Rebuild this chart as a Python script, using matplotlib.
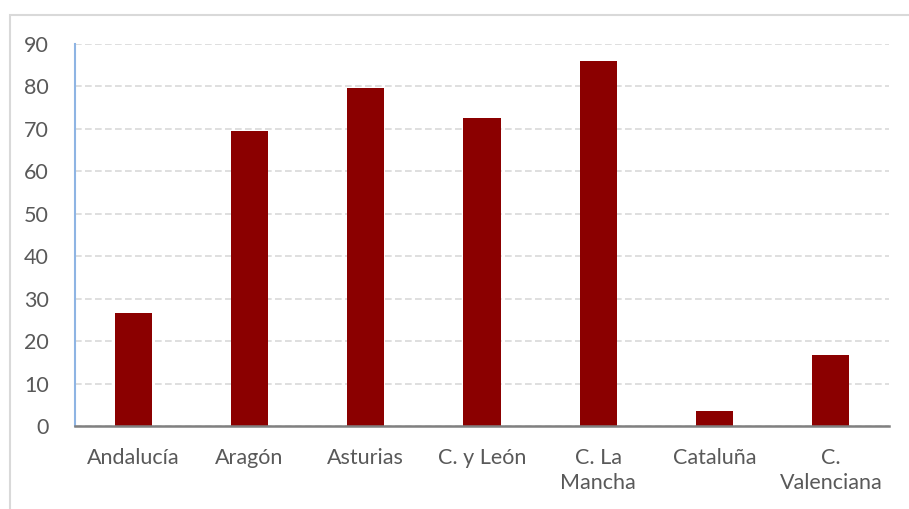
import matplotlib.pyplot as plt
from matplotlib.patches import Rectangle

regions = ["Andalucía", "Aragón", "Asturias", "C. y León", "C. La\nMancha", "Cataluña", "C.\nValenciana"]
values = [26.6, 69.4, 79.6, 72.5, 85.9, 3.5, 16.7]
yticks = [0, 10, 20, 30, 40, 50, 60, 70, 80, 90]

plt.rcParams["font.family"] = ["Lato", "DejaVu Sans"]

fig = plt.figure(figsize=(9.09, 5.09), dpi=100)
ax = fig.add_axes([75 / 909, 1 - 426 / 509, 814 / 909, 382 / 509])

ax.bar(range(len(regions)), values, width=0.32, color="#8b0000", zorder=3)

ax.set_xlim(-0.5, len(regions) - 0.5)
ax.set_ylim(0, 90)
ax.set_yticks(yticks)
ax.set_xticks(range(len(regions)))
ax.set_xticklabels(regions, linespacing=1.3)
ax.tick_params(axis="both", length=0, labelsize=15.5, colors="#595959")
ax.tick_params(axis="x", pad=16)
ax.tick_params(axis="y", pad=19)

ax.grid(axis="y", color="#d9d9d9", linestyle=(0, (4, 2)), linewidth=1.2, zorder=0)
for side in ["top", "right"]:
    ax.spines[side].set_visible(False)
ax.spines["left"].set_color("#8eb4e3")
ax.spines["left"].set_linewidth(1.5)
ax.spines["bottom"].set_color("#808080")
ax.spines["bottom"].set_linewidth(1.8)
ax.spines["bottom"].set_zorder(4)

# outer chart frame (only top and left edges visible)
fig.patches.append(Rectangle((10 / 909, -0.05), 1.1, 1 - 15 / 509 + 0.05,
                             transform=fig.transFigure, fill=False,
                             edgecolor="#d9d9d9", linewidth=1.5))

fig.savefig("out.png", dpi=100)
